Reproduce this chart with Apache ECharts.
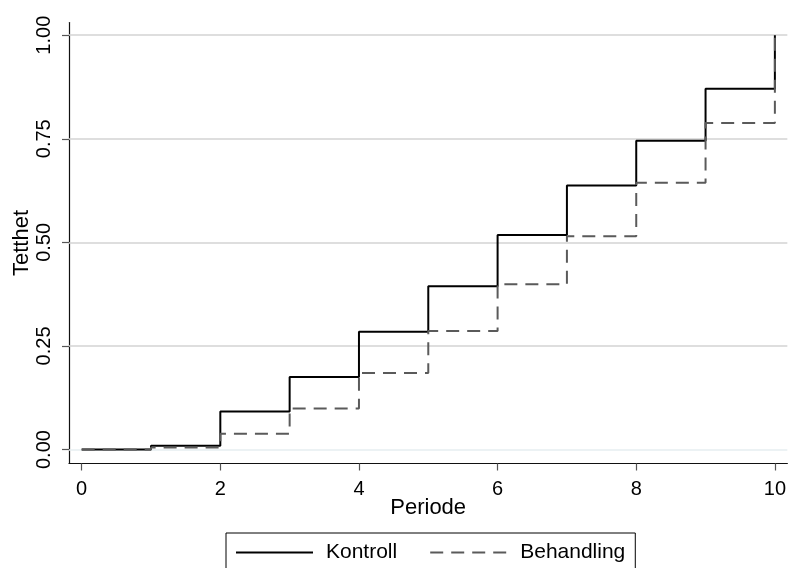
<!DOCTYPE html>
<html>
<head>
<meta charset="utf-8">
<script src="https://cdn.jsdelivr.net/npm/echarts@6/dist/echarts.min.js"></script>
<style>
html,body{margin:0;padding:0;background:#fff;}
#chart{width:789px;height:568px;}
</style>
</head>
<body>
<div id="chart"></div>
<script>
const periods = [0, 1, 2, 3, 4, 5, 6, 7, 8, 9, 10];
const kontroll = [0, 0.009, 0.092, 0.175, 0.284, 0.394, 0.518, 0.637, 0.745, 0.871, 1.0];
const behandling = [0, 0.005, 0.038, 0.099, 0.185, 0.286, 0.399, 0.515, 0.644, 0.788, 1.0];
const xTicks = [0, 2, 4, 6, 8, 10];
const yTicks = [0, 0.25, 0.5, 0.75, 1.0];
const gridValues = [0.25, 0.5, 0.75, 1.0];

const FONT = 'Arial, "Liberation Sans", sans-serif';
const chart = echarts.init(document.getElementById('chart'));

const gridLines = [{ yAxis: 0, lineStyle: { color: '#e6eef0', width: 1.5, type: 'solid' } }]
  .concat(gridValues.map(v => ({ yAxis: v })));

chart.setOption({
  animation: false,
  backgroundColor: '#fff',
  textStyle: { fontFamily: FONT },
  grid: { left: 69, right: 0, top: 22.5, bottom: 104.5, containLabel: false },
  xAxis: {
    type: 'value',
    min: -0.183,
    max: 10.18,
    name: 'Periode',
    nameLocation: 'middle',
    nameGap: 33,
    nameMoveOverlap: false,
    nameTextStyle: { fontSize: 22, color: '#000', fontFamily: FONT, verticalAlign: 'top' },
    axisLine: { show: true, onZero: false, lineStyle: { color: '#111', width: 1.2 } },
    axisTick: { show: true, length: 7, customValues: xTicks, lineStyle: { color: '#555', width: 1.2 } },
    axisLabel: { customValues: xTicks, fontSize: 20, color: '#000', margin: 16, fontFamily: FONT,
      formatter: v => String(v) },
    splitLine: { show: false }
  },
  yAxis: {
    type: 'value',
    min: -0.0337,
    max: 1.0306,
    name: 'Tetthet',
    nameLocation: 'middle',
    nameRotate: 90,
    nameGap: 36,
    nameMoveOverlap: false,
    nameTextStyle: { fontSize: 22, color: '#000', fontFamily: FONT },
    axisLine: { show: true, onZero: false, lineStyle: { color: '#111', width: 1.2 } },
    axisTick: { show: true, length: 7, customValues: yTicks, lineStyle: { color: '#555', width: 1.2 } },
    axisLabel: { customValues: yTicks, fontSize: 20, color: '#000', margin: 15, rotate: 90, fontFamily: FONT,
      formatter: v => v.toFixed(2) },
    splitLine: { show: false }
  },
  legend: {
    left: 226,
    top: 533,
    orient: 'horizontal',
    padding: [9, 10, 9, 9],
    itemGap: 32,
    itemWidth: 77,
    itemHeight: 22,
    borderColor: '#000',
    borderWidth: 1,
    backgroundColor: '#fff',
    itemStyle: { opacity: 0, borderWidth: 0 },
    data: ['Kontroll', 'Behandling'],
    textStyle: { fontSize: 21, color: '#000', fontFamily: FONT, padding: [0, 0, 0, 8] }
  },
  series: [
    {
      name: 'Kontroll',
      type: 'line',
      step: 'end',
      symbol: 'none',
      z: 2,
      data: periods.map((p, i) => [p, kontroll[i]]),
      lineStyle: { color: '#000', width: 2 },
      itemStyle: { color: '#000' },
      markLine: {
        silent: true,
        z: 1,
        symbol: ['none', 'none'],
        label: { show: false },
        emphasis: { disabled: true },
        lineStyle: { color: '#d3d3d3', width: 1.5, type: 'solid' },
        data: gridLines
      }
    },
    {
      name: 'Behandling',
      type: 'line',
      step: 'end',
      symbol: 'none',
      z: 3,
      data: periods.map((p, i) => [p, behandling[i]]),
      lineStyle: { color: '#5a5a5a', width: 2, type: [13, 8] },
      itemStyle: { color: '#5a5a5a' }
    }
  ]
});
</script>
</body>
</html>
